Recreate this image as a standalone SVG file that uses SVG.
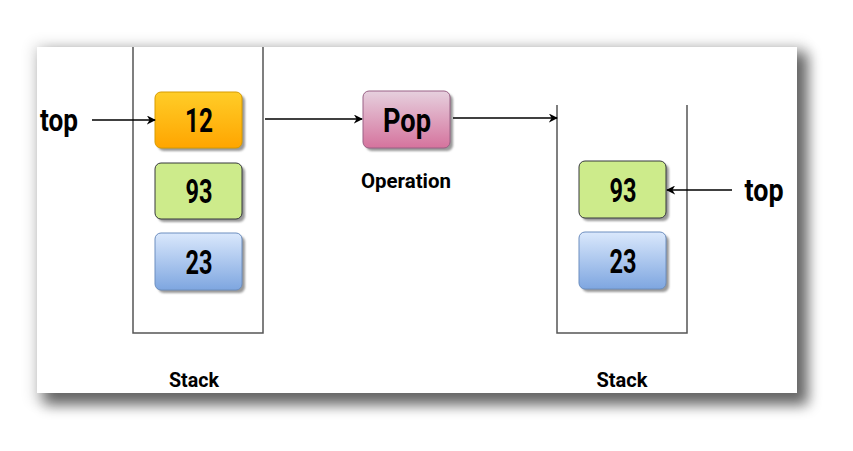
<svg xmlns="http://www.w3.org/2000/svg" width="853" height="451" viewBox="0 0 853 451">
<defs>
<filter id="panelShadow" x="-10%" y="-10%" width="120%" height="125%">
<feGaussianBlur stdDeviation="7"/>
</filter>
<filter id="boxShadow" x="-20%" y="-20%" width="150%" height="150%">
<feGaussianBlur stdDeviation="1.2"/>
</filter>
<linearGradient id="gOrange" x1="0" y1="0" x2="0" y2="1"><stop offset="0" stop-color="#ffcd28"/><stop offset="1" stop-color="#ffa500"/></linearGradient>
<linearGradient id="gBlue" x1="0" y1="0" x2="0" y2="1"><stop offset="0" stop-color="#dae8fc"/><stop offset="1" stop-color="#7ea6e0"/></linearGradient>
<linearGradient id="gPink" x1="0" y1="0" x2="0" y2="1"><stop offset="0" stop-color="#e6d0de"/><stop offset="1" stop-color="#d5739d"/></linearGradient>
<marker id="arr" viewBox="0 0 10 10" refX="9" refY="5" markerWidth="9" markerHeight="9" markerUnits="userSpaceOnUse" orient="auto">
<path d="M0,0 L10,5 L0,10 L3,5 Z" fill="#000"/>
</marker>
</defs>
<style>
.t{font-family:Roboto,"Liberation Sans",sans-serif;font-weight:bold;fill:#000;text-anchor:middle}
.num{font-size:33px}
.lbl{font-size:21px}
.stack{fill:none;stroke:#555;stroke-width:1.5}
.conn{stroke:#000;stroke-width:1.5;fill:none;marker-end:url(#arr)}
.sh{fill:#999;filter:url(#boxShadow)}
</style>
<rect width="853" height="451" fill="#fff"/>
<g id="panel">
<rect x="33" y="44" width="772" height="358" fill="#000" opacity="0.12" filter="url(#panelShadow)"/>
<rect x="44" y="53" width="764" height="352" fill="#000" opacity="0.55" filter="url(#panelShadow)"/>
<rect x="37" y="47" width="760" height="346" fill="#fff"/>
</g>
<g id="stack-left">
<path class="stack" d="M133,47 V333 H263 V47"/>
<text class="t lbl" x="194" y="387" textLength="50" lengthAdjust="spacingAndGlyphs">Stack</text>
</g>
<g id="stack-right">
<path class="stack" d="M557,105 V333 H687 V105"/>
<text class="t lbl" x="622" y="387" textLength="51" lengthAdjust="spacingAndGlyphs">Stack</text>
</g>
<g id="node-12">
<rect class="sh" x="158" y="95" width="87" height="56" rx="6"/>
<rect x="155" y="92" width="87" height="56" rx="6" fill="url(#gOrange)" stroke="#d79b00" stroke-width="1"/>
<text class="t num" x="199" y="132" textLength="28" lengthAdjust="spacingAndGlyphs">12</text>
</g>
<g id="node-93-left">
<rect class="sh" x="158" y="166" width="87" height="56" rx="6"/>
<rect x="155" y="163" width="87" height="56" rx="6" fill="#cdeb8b" stroke="#36393d" stroke-width="1"/>
<text class="t num" x="199" y="203" textLength="27" lengthAdjust="spacingAndGlyphs">93</text>
</g>
<g id="node-23-left">
<rect class="sh" x="158" y="236" width="87" height="57" rx="6"/>
<rect x="155" y="233" width="87" height="57" rx="6" fill="url(#gBlue)" stroke="#6c8ebf" stroke-width="1"/>
<text class="t num" x="199" y="274" textLength="27" lengthAdjust="spacingAndGlyphs">23</text>
</g>
<g id="node-pop">
<rect class="sh" x="366" y="94" width="87" height="57" rx="6"/>
<rect x="363" y="91" width="87" height="57" rx="6" fill="url(#gPink)" stroke="#996185" stroke-width="1"/>
<text class="t" x="407" y="132" font-size="34" textLength="48" lengthAdjust="spacingAndGlyphs">Pop</text>
<text class="t lbl" x="406" y="188" textLength="90" lengthAdjust="spacingAndGlyphs">Operation</text>
</g>
<g id="node-93-right">
<rect class="sh" x="582" y="164" width="87" height="57" rx="6"/>
<rect x="579" y="161" width="87" height="57" rx="6" fill="#cdeb8b" stroke="#36393d" stroke-width="1"/>
<text class="t num" x="623" y="202" textLength="27" lengthAdjust="spacingAndGlyphs">93</text>
</g>
<g id="node-23-right">
<rect class="sh" x="582" y="235" width="87" height="57" rx="6"/>
<rect x="579" y="232" width="87" height="57" rx="6" fill="url(#gBlue)" stroke="#6c8ebf" stroke-width="1"/>
<text class="t num" x="623" y="273" textLength="27" lengthAdjust="spacingAndGlyphs">23</text>
</g>
<g id="top-left">
<text class="t" x="59" y="131" font-size="31" textLength="38" lengthAdjust="spacingAndGlyphs">top</text>
</g>
<g id="top-right">
<text class="t" x="764" y="201" font-size="31" textLength="39" lengthAdjust="spacingAndGlyphs">top</text>
</g>
<g id="connectors">
<line class="conn" x1="92" y1="120" x2="155" y2="120"/>
<line class="conn" x1="265" y1="119" x2="362" y2="119"/>
<line class="conn" x1="453" y1="118" x2="557" y2="118"/>
<line class="conn" x1="732" y1="190" x2="667" y2="190"/>
</g>
</svg>
